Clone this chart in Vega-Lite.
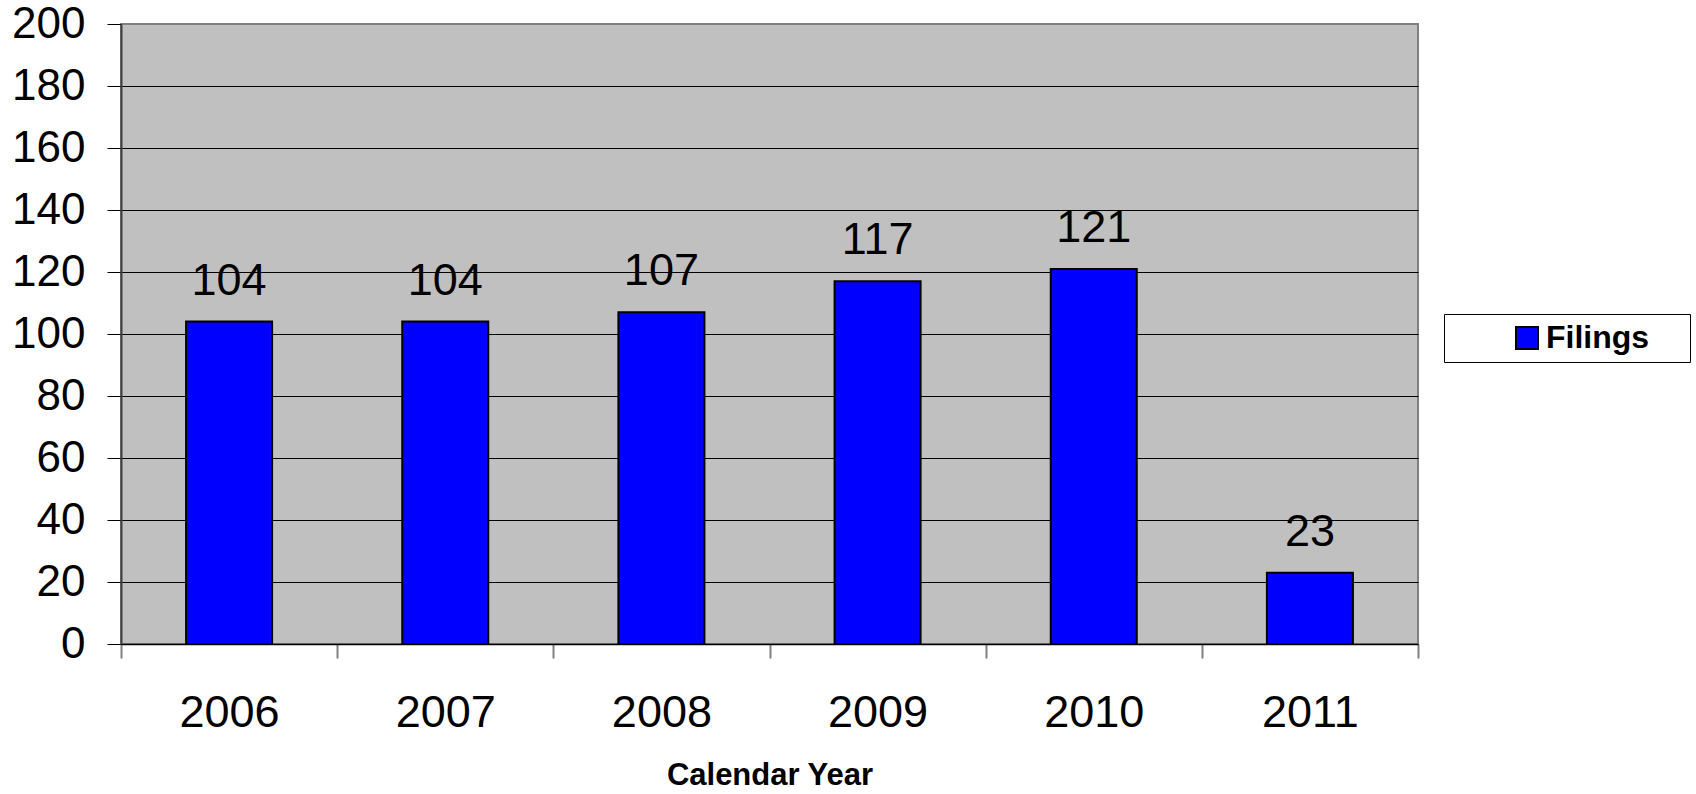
{
  "$schema": "https://vega.github.io/schema/vega-lite/v6.json",
  "autosize": {"type": "none"},
  "padding": {"left": 121, "top": 24, "right": 278, "bottom": 150},
  "width": 1297,
  "height": 620,
  "background": "white",
  "config": {
    "font": "Liberation Sans",
    "view": {"fill": "#C0C0C0", "stroke": "#808080", "strokeWidth": 2}
  },
  "data": {
    "values": [
      {"year": "2006", "filings": 104, "series": "Filings"},
      {"year": "2007", "filings": 104, "series": "Filings"},
      {"year": "2008", "filings": 107, "series": "Filings"},
      {"year": "2009", "filings": 117, "series": "Filings"},
      {"year": "2010", "filings": 121, "series": "Filings"},
      {"year": "2011", "filings": 23, "series": "Filings"}
    ]
  },
  "encoding": {
    "x": {
      "field": "year",
      "type": "ordinal",
      "scale": {"paddingInner": 0, "paddingOuter": 0},
      "axis": {
        "title": "Calendar Year",
        "titleFont": "Liberation Sans",
        "titleFontSize": 31,
        "titleFontWeight": "bold",
        "titleColor": "black",
        "titleBaseline": "alphabetic",
        "titleY": 140,
        "labelAngle": 0,
        "labelFontSize": 45,
        "labelColor": "black",
        "labelPadding": 32,
        "tickBand": "extent",
        "tickSize": 14,
        "tickColor": "#808080",
        "tickWidth": 2,
        "domainColor": "#000000",
        "domainWidth": 1.5,
        "grid": false
      }
    },
    "y": {
      "field": "filings",
      "type": "quantitative",
      "scale": {"domain": [0, 200], "nice": false},
      "axis": {
        "title": null,
        "values": [0, 20, 40, 60, 80, 100, 120, 140, 160, 180, 200],
        "labelFontSize": 44,
        "labelColor": "black",
        "labelPadding": 22,
        "tickSize": 14,
        "tickColor": "black",
        "tickWidth": 1,
        "domainColor": "#404040",
        "domainWidth": 2,
        "grid": true,
        "gridColor": {"condition": {"test": "datum.value === 200", "value": "#808080"}, "value": "black"},
        "gridWidth": 1,
        "gridOpacity": 1
      }
    }
  },
  "layer": [
    {
      "mark": {"type": "bar", "size": 86, "stroke": "black", "strokeWidth": 2},
      "encoding": {
        "color": {
          "field": "series",
          "type": "nominal",
          "scale": {"domain": ["Filings"], "range": ["#0000FF"]},
          "legend": {
            "title": "M",
            "titleOrient": "right",
            "titleOpacity": 0,
            "titleFontSize": 28,
            "titlePadding": 9,
            "orient": "none",
            "legendX": 1323,
            "legendY": 290,
            "padding": 8,
            "strokeColor": "black",
            "fillColor": "white",
            "symbolType": "square",
            "symbolSize": 484,
            "symbolStrokeColor": "black",
            "symbolStrokeWidth": 2,
            "symbolOffset": 59,
            "labelFontSize": 32,
            "labelFontWeight": "bold",
            "labelColor": "black",
            "labelOffset": 3
          }
        }
      }
    },
    {
      "mark": {"type": "text", "baseline": "alphabetic", "dy": -27, "fontSize": 45, "color": "black"},
      "encoding": {"text": {"field": "filings", "type": "quantitative"}}
    }
  ]
}
